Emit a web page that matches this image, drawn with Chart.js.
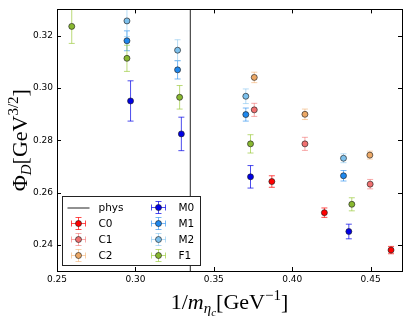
<!DOCTYPE html>
<html>
<head>
<meta charset="utf-8">
<script src="https://cdn.jsdelivr.net/npm/chart.js@4.4.1/dist/chart.umd.min.js"></script>
<style>
  html, body { margin: 0; padding: 0; background: #fff; }
  canvas { display: block; }
</style>
</head>
<body>
<canvas id="myChart" width="407" height="318"></canvas>
<script>
// axis ticks / range
const xTicks = [0.25, 0.30, 0.35, 0.40, 0.45];
const yTicks = [0.24, 0.26, 0.28, 0.30, 0.32];
const xMin = 0.25, xMax = 0.47;
const yMin = 0.23, yMax = 0.33;
const physX = 0.335;

// series: x = 1/m_etac, y = Phi_D, err = y error
const c0X = [0.387, 0.4205, 0.463];
const c0Y = [0.2642, 0.2523, 0.2380];
const c0Err = [0.0022, 0.0018, 0.0014];

const c1X = [0.3758, 0.4081, 0.4497];
const c1Y = [0.2916, 0.2786, 0.2632];
const c1Err = [0.0025, 0.0025, 0.0018];

const c2X = [0.3758, 0.4081, 0.4495];
const c2Y = [0.3040, 0.2899, 0.2743];
const c2Err = [0.0020, 0.0020, 0.0015];

const m0X = [0.2969, 0.3293, 0.3734, 0.4361];
const m0Y = [0.2950, 0.2824, 0.2660, 0.2451];
const m0Err = [0.0077, 0.0064, 0.0043, 0.0028];

const m1X = [0.2946, 0.3269, 0.3704, 0.4327];
const m1Y = [0.3180, 0.3069, 0.2898, 0.2664];
const m1Err = [0.0038, 0.0035, 0.0025, 0.0020];

const m2X = [0.2946, 0.3269, 0.3704, 0.4327];
const m2Y = [0.3256, 0.3144, 0.2968, 0.2731];
const m2Err = [0.0060, 0.0040, 0.0028, 0.0017];

const f1X = [0.2594, 0.2946, 0.3282, 0.3734, 0.4380];
const f1Y = [0.3235, 0.3113, 0.2964, 0.2786, 0.2555];
const f1Err = [0.0065, 0.0050, 0.0045, 0.0035, 0.0025];

const series = [
    { label: 'C0', xs: c0X, ys: c0Y, errs: c0Err, color: '#ff0000', err: 'rgba(255,0,0,0.7)' },
    { label: 'C1', xs: c1X, ys: c1Y, errs: c1Err, color: '#f07070', err: 'rgba(240,100,100,0.55)' },
    { label: 'C2', xs: c2X, ys: c2Y, errs: c2Err, color: '#eca866', err: 'rgba(240,170,100,0.55)' },
    { label: 'M0', xs: m0X, ys: m0Y, errs: m0Err, color: '#0000e6', err: 'rgba(0,0,230,0.7)' },
    { label: 'M1', xs: m1X, ys: m1Y, errs: m1Err, color: '#1e88ee', err: 'rgba(30,136,238,0.6)' },
    { label: 'M2', xs: m2X, ys: m2Y, errs: m2Err, color: '#7cc0ec', err: 'rgba(124,192,236,0.55)' },
    { label: 'F1', xs: f1X, ys: f1Y, errs: f1Err, color: '#88b830', err: 'rgba(150,200,50,0.65)' }
];

const datasets = series.map((s, k) => ({
    type: 'scatter',
    label: s.label,
    data: s.xs.map((x, i) => ({ x: x, y: s.ys[i] })),
    errors: s.errs,
    errColor: s.err,
    pointRadius: 3,
    pointHoverRadius: 3,
    pointBackgroundColor: s.color,
    pointBorderColor: 'rgba(30,30,30,0.8)',
    pointBorderWidth: 0.8,
    order: series.length - k
}));
datasets.push({
    type: 'line',
    label: 'phys',
    data: [{ x: physX, y: yMin }, { x: physX, y: yMax }],
    borderColor: '#222',
    borderWidth: 1,
    pointRadius: 0,
    order: 20
});

// vertical error bars, drawn just before each dataset's markers
const errorBars = {
    id: 'errorBars',
    beforeDatasetDraw(chart, args) {
        const ds = chart.data.datasets[args.index];
        if (!ds.errors) return;
        const ctx = chart.ctx, y = chart.scales.y, a = chart.chartArea;
        ctx.save();
        ctx.beginPath();
        ctx.rect(a.left, a.top, a.right - a.left, a.bottom - a.top);
        ctx.clip();
        ctx.strokeStyle = ds.errColor;
        ctx.lineWidth = 1;
        args.meta.data.forEach((pt, i) => {
            const v = ds.data[i].y, e = ds.errors[i];
            const top = y.getPixelForValue(v + e), bot = y.getPixelForValue(v - e);
            ctx.beginPath();
            ctx.moveTo(pt.x, top); ctx.lineTo(pt.x, bot);
            ctx.moveTo(pt.x - 3, top); ctx.lineTo(pt.x + 3, top);
            ctx.moveTo(pt.x - 3, bot); ctx.lineTo(pt.x + 3, bot);
            ctx.stroke();
        });
        ctx.restore();
    }
};

function drawRich(ctx, parts, cx, baseY) {
    let w = 0;
    parts.forEach(p => { ctx.font = p.font; p.w = ctx.measureText(p.text).width; w += p.w; });
    let x = cx - w / 2;
    ctx.textAlign = 'left';
    ctx.textBaseline = 'alphabetic';
    parts.forEach(p => { ctx.font = p.font; ctx.fillText(p.text, x, baseY + (p.dy || 0)); x += p.w; });
}

const big = '22px "Liberation Serif"';
const bigIt = 'italic 22px "Liberation Serif"';
const small = '15px "Liberation Serif"';
const smallIt = 'italic 15px "Liberation Serif"';
const tinyIt = 'italic 11px "Liberation Serif"';

// frame, inward ticks, axis titles, legend
const decorations = {
    id: 'decorations',
    afterDraw(chart) {
        const ctx = chart.ctx, a = chart.chartArea;
        const xs = chart.scales.x, ys = chart.scales.y;
        ctx.save();
        ctx.strokeStyle = '#000';
        ctx.lineWidth = 1;
        ctx.strokeRect(Math.round(a.left) + 0.5, Math.round(a.top) + 0.5,
            Math.round(a.right - a.left), Math.round(a.bottom - a.top));
        ctx.beginPath();
        xTicks.forEach(v => {
            const px = Math.round(xs.getPixelForValue(v)) + 0.5;
            ctx.moveTo(px, a.bottom); ctx.lineTo(px, a.bottom - 4);
            ctx.moveTo(px, a.top); ctx.lineTo(px, a.top + 4);
        });
        yTicks.forEach(v => {
            const py = Math.round(ys.getPixelForValue(v)) + 0.5;
            ctx.moveTo(a.left, py); ctx.lineTo(a.left + 4, py);
            ctx.moveTo(a.right, py); ctx.lineTo(a.right - 4, py);
        });
        ctx.stroke();

        // axis titles
        ctx.fillStyle = '#000';
        drawRich(ctx, [
            { text: '1/', font: big },
            { text: 'm', font: bigIt },
            { text: 'η', font: smallIt, dy: 4 },
            { text: 'c', font: tinyIt, dy: 7 },
            { text: '[GeV', font: big },
            { text: '−1', font: small, dy: -9 },
            { text: ']', font: big }
        ], (a.left + a.right) / 2, 309);
        ctx.save();
        ctx.translate(27, (a.top + a.bottom) / 2);
        ctx.rotate(-Math.PI / 2);
        drawRich(ctx, [
            { text: 'Φ', font: big },
            { text: 'D', font: smallIt, dy: 4 },
            { text: '[GeV', font: big },
            { text: '3/2', font: small, dy: -9 },
            { text: ']', font: big }
        ], 0, 0);
        ctx.restore();

        // legend in lower left corner
        const bx = a.left + 5.5, bw = 138, bh = 69;
        const by = a.bottom - 5.5 - bh;
        ctx.fillStyle = '#fff';
        ctx.fillRect(bx, by, bw, bh);
        ctx.strokeStyle = '#222';
        ctx.strokeRect(bx, by, bw, bh);
        const entries = [{ label: 'phys' }].concat(series);
        ctx.font = '10.5px "DejaVu Sans"';
        ctx.textBaseline = 'middle';
        ctx.textAlign = 'left';
        entries.forEach((s, i) => {
            const col = Math.floor(i / 4), row = i % 4;
            const cx = bx + 16 + col * 80, cy = by + 11 + row * 16;
            if (!s.color) {
                ctx.strokeStyle = '#222';
                ctx.beginPath();
                ctx.moveTo(cx - 11, cy + 0.5); ctx.lineTo(cx + 11, cy + 0.5);
                ctx.stroke();
            } else {
                ctx.strokeStyle = s.err;
                ctx.beginPath();
                ctx.moveTo(cx - 7, cy); ctx.lineTo(cx + 7, cy);
                ctx.moveTo(cx - 7, cy - 3); ctx.lineTo(cx - 7, cy + 3);
                ctx.moveTo(cx + 7, cy - 3); ctx.lineTo(cx + 7, cy + 3);
                ctx.moveTo(cx, cy - 6); ctx.lineTo(cx, cy + 6);
                ctx.moveTo(cx - 3, cy - 6); ctx.lineTo(cx + 3, cy - 6);
                ctx.moveTo(cx - 3, cy + 6); ctx.lineTo(cx + 3, cy + 6);
                ctx.stroke();
                ctx.beginPath();
                ctx.arc(cx, cy, 3, 0, Math.PI * 2);
                ctx.fillStyle = s.color;
                ctx.fill();
                ctx.lineWidth = 0.8;
                ctx.strokeStyle = 'rgba(30,30,30,0.8)';
                ctx.stroke();
                ctx.lineWidth = 1;
            }
            ctx.fillStyle = '#000';
            ctx.fillText(s.label, cx + 20, cy + 1);
        });
        ctx.restore();
    }
};

const ctx = document.getElementById('myChart').getContext('2d');
const myChart = new Chart(ctx, {
    type: 'scatter',
    data: { datasets: datasets },
    options: {
        responsive: false,
        animation: false,
        layout: { padding: { top: 5, right: 5, left: 0, bottom: 0 } },
        plugins: { legend: { display: false }, tooltip: { enabled: false } },
        scales: {
            x: {
                type: 'linear', min: xMin, max: xMax,
                grid: { display: false, drawTicks: false },
                border: { display: false },
                afterBuildTicks: s => { s.ticks = xTicks.map(v => ({ value: v })); },
                afterFit: s => { s.height = 47; },
                ticks: {
                    padding: 3, color: '#000', maxRotation: 0,
                    font: { family: 'DejaVu Sans', size: 9 },
                    callback: v => v.toFixed(2)
                }
            },
            y: {
                type: 'linear', min: yMin, max: yMax,
                grid: { display: false, drawTicks: false },
                border: { display: false },
                afterBuildTicks: s => { s.ticks = yTicks.map(v => ({ value: v })); },
                afterFit: s => { s.width = 57; },
                ticks: {
                    padding: 4, color: '#000',
                    font: { family: 'DejaVu Sans', size: 9 },
                    callback: v => v.toFixed(2)
                }
            }
        }
    },
    plugins: [errorBars, decorations]
});
</script>
</body>
</html>
